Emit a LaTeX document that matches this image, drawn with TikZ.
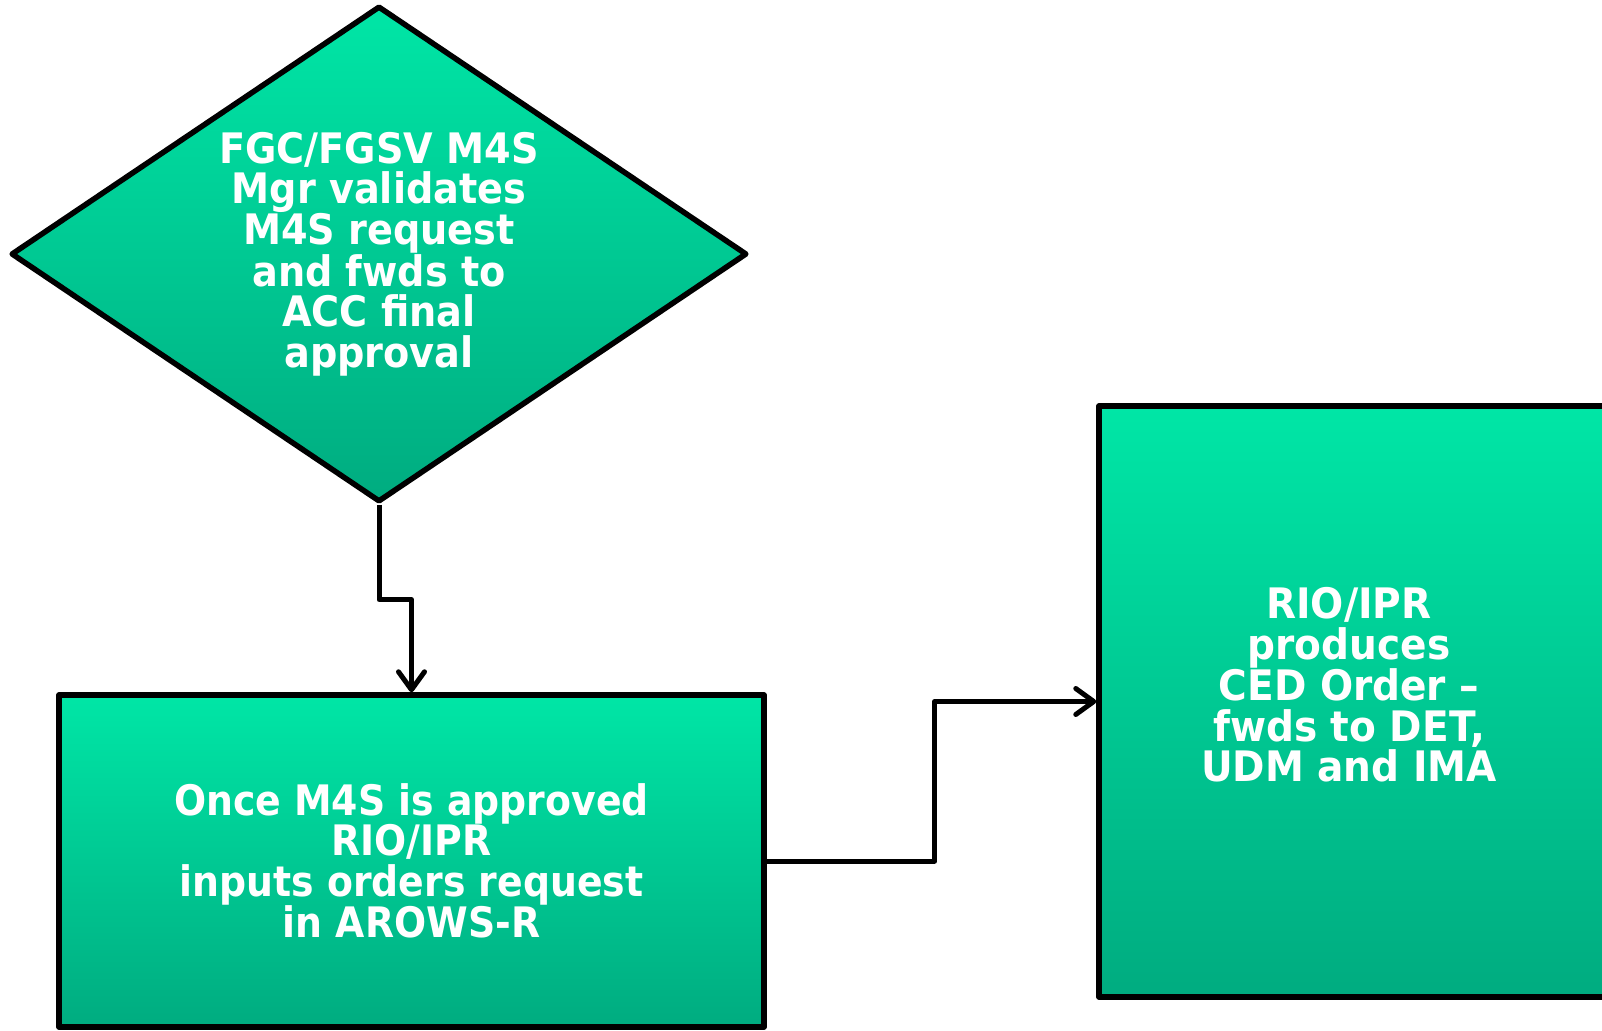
\documentclass[tikz,border=0pt]{standalone}
\usepackage{fontspec}
\setmainfont{DejaVu Sans}
\newfontfamily\diafont[FakeStretch=0.91,Ligatures=TeX]{DejaVu Sans}
\newfontfamily\boxafont[FakeStretch=0.90,Ligatures=TeX]{DejaVu Sans}
\newfontfamily\boxbfont[FakeStretch=0.93,Ligatures=TeX]{DejaVu Sans}
\usetikzlibrary{shapes.geometric,arrows.meta,shadows}
\definecolor{gtop}{RGB}{0,230,166}
\definecolor{gbot}{RGB}{0,172,128}
\begin{document}
\begin{tikzpicture}[x=1pt,y=-1pt,
  flow/.style={draw=black, line width=5.5pt, line join=round, top color=gtop, bottom color=gbot,
    inner sep=0pt, drop shadow={opacity=0.25, shadow xshift=2pt, shadow yshift=-2pt}},
  lbl/.style={text=white, align=center, inner sep=0pt},
  conn/.style={draw=black, line width=5pt, line join=round,
    -{Straight Barb[length=18pt,width=26pt,round]}}
]
\useasboundingbox (0,0) rectangle (1602,1030);
\clip (0,0) rectangle (1602,1030);

\node[flow, lbl, diamond, aspect=1.484, minimum width=736pt, minimum height=496pt,
  font=\diafont\bfseries\fontsize{42}{40.5}\selectfont] (dia) at (379,254)
  {FGC/FGSV M4S\\Mgr validates\\M4S request\\and fwds to\\ACC final\\approval};

\node[flow, lbl, rectangle, minimum width=705pt, minimum height=332pt,
  font=\boxafont\bfseries\fontsize{42}{40.5}\selectfont] (box1) at (411.5,861)
  {Once M4S is approved\\RIO/IPR\\inputs orders request\\in AROWS-R};

\node[flow, rectangle, minimum width=507pt, minimum height=591pt] (box2) at (1352.5,701.5) {};
\node[lbl, font=\boxbfont\bfseries\fontsize{42}{40.5}\selectfont] (box2text) at (1349,685)
  {RIO/IPR\\produces\\CED Order –\\fwds to DET,\\UDM and IMA};

\draw[conn] (dia.south) -- ++(0,95) -| (box1.north);
\draw[conn] (box1.east) -- ++(168,0) |- (box2.west);
\end{tikzpicture}
\end{document}
